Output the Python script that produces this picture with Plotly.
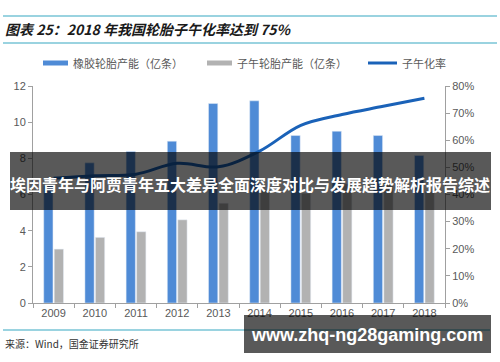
import plotly.graph_objects as go

years = ["2009", "2010", "2011", "2012", "2013", "2014", "2015", "2016", "2017", "2018"]
tire_capacity = [6.5, 7.75, 8.38, 8.95, 11.03, 11.18, 9.26, 9.5, 9.26, 8.16]
radial_capacity = [2.98, 3.63, 3.94, 4.6, 5.52, 6.26, 6.07, 6.6, 6.7, 6.15]
radial_rate = [0.46, 0.469, 0.475, 0.515, 0.502, 0.56, 0.655, 0.695, 0.725, 0.755]

title_text = "图表 25：2018 年我国轮胎子午化率达到 75%"
legend_names = ["橡胶轮胎产能（亿条）", "子午轮胎产能（亿条）", "子午化率"]
source_text = "来源：Wind，国金证券研究所"
banner_text = "埃因青年与阿贾青年五大差异全面深度对比与发展趋势解析报告综述"
url_text = "www.zhq-ng28gaming.com"

W, H = 500, 362
L, R, T, B = 33, 445, 86, 303

def px(x):
    return (x - L) / (R - L)

def py(y):
    return (B - y) / (B - T)

BLUE = "#4f8bd6"
GRAY = "#b2b2b2"
LINE = "#1a62b8"
TEAL = "#79c4d6"
AX = "#a0a0a0"
TXT = "#595959"
CJK = "Noto Sans CJK SC"

fig = go.Figure()
fig.add_trace(go.Bar(x=years, y=tire_capacity, name=legend_names[0], marker_color=BLUE, yaxis="y"))
fig.add_trace(go.Bar(x=years, y=radial_capacity, name=legend_names[1], marker_color=GRAY, yaxis="y"))
fig.add_trace(go.Scatter(x=years, y=radial_rate, name=legend_names[2], mode="lines",
                         line=dict(color=LINE, width=3, shape="spline", smoothing=1.0), yaxis="y2"))

shapes = []
annotations = []

for yy in (16, 43):
    shapes.append(dict(type="line", xref="paper", yref="paper", x0=px(3), x1=px(497), y0=py(yy), y1=py(yy),
                       line=dict(color=TEAL, width=1.5)))
shapes.append(dict(type="line", xref="paper", yref="paper", x0=px(3), x1=px(490), y0=py(330), y1=py(330),
                   line=dict(color=TEAL, width=1.5)))

annotations.append(dict(text="<b><i>" + title_text + "</i></b>", xref="paper", yref="paper", x=px(3), y=py(29),
                        xanchor="left", yanchor="middle", showarrow=False,
                        font=dict(family=CJK, size=14, color="#1a1a1a")))

shapes.append(dict(type="rect", xref="paper", yref="paper", x0=px(43), x1=px(68), y0=py(60.5), y1=py(65.5),
                   fillcolor=BLUE, line=dict(width=0)))
shapes.append(dict(type="rect", xref="paper", yref="paper", x0=px(207), x1=px(232), y0=py(60.5), y1=py(65.5),
                   fillcolor=GRAY, line=dict(width=0)))
shapes.append(dict(type="line", xref="paper", yref="paper", x0=px(368), x1=px(397), y0=py(63), y1=py(63),
                   line=dict(color=LINE, width=3)))
for xx, name in zip((71, 235, 400), legend_names):
    annotations.append(dict(text=name, xref="paper", yref="paper", x=px(xx), y=py(63),
                            xanchor="left", yanchor="middle", showarrow=False,
                            font=dict(family=CJK, size=11, color=TXT)))

annotations.append(dict(text=source_text, xref="paper", yref="paper", x=px(3), y=py(343),
                        xanchor="left", yanchor="middle", showarrow=False,
                        font=dict(family=CJK, size=10, color="#333333")))

shapes.append(dict(type="rect", xref="paper", yref="paper", x0=px(10), x1=px(491), y0=py(152), y1=py(210),
                   fillcolor="rgba(0,0,0,0.65)", line=dict(width=0), layer="above"))
shapes.append(dict(type="rect", xref="paper", yref="paper", x0=px(244), x1=px(491), y0=py(315), y1=py(353),
                   fillcolor="rgba(0,0,0,0.65)", line=dict(width=0), layer="above"))
annotations.append(dict(text="<b>" + banner_text + "</b>", xref="paper", yref="paper", x=px(250), y=py(184),
                        xanchor="center", yanchor="middle", showarrow=False,
                        font=dict(family=CJK, size=16, color="white")))
annotations.append(dict(text="<b>" + url_text + "</b>", xref="paper", yref="paper", x=px(367), y=py(335),
                        xanchor="center", yanchor="middle", showarrow=False,
                        font=dict(family="Liberation Sans", size=18, color="white")))

fig.update_layout(
    width=W, height=H,
    margin=dict(l=L, r=W - R, t=T, b=H - B, pad=0),
    paper_bgcolor="white", plot_bgcolor="white",
    barmode="group", bargap=0.49, bargroupgap=0.12,
    showlegend=False,
    font=dict(family="Liberation Sans", size=11, color=TXT),
    xaxis=dict(type="category", tickson="boundaries", ticks="outside", ticklen=4, tickcolor=AX,
               showline=True, linecolor=AX, linewidth=1, showgrid=False,
               tickfont=dict(size=11, color=TXT)),
    yaxis=dict(range=[0, 12], dtick=2, ticks="outside", ticklen=4, tickcolor=AX,
               showline=True, linecolor=AX, linewidth=1, showgrid=False, zeroline=False,
               tickfont=dict(size=11, color=TXT)),
    yaxis2=dict(range=[0, 0.8], dtick=0.1, tickformat=".0%", overlaying="y", side="right",
                ticks="outside", ticklen=4, tickcolor=AX,
                showline=True, linecolor=AX, linewidth=1, showgrid=False, zeroline=False,
                tickfont=dict(size=11, color=TXT)),
    shapes=shapes, annotations=annotations,
)

fig.write_html("out.html", config={"displayModeBar": False},
               post_script="document.body.style.margin='0';")
